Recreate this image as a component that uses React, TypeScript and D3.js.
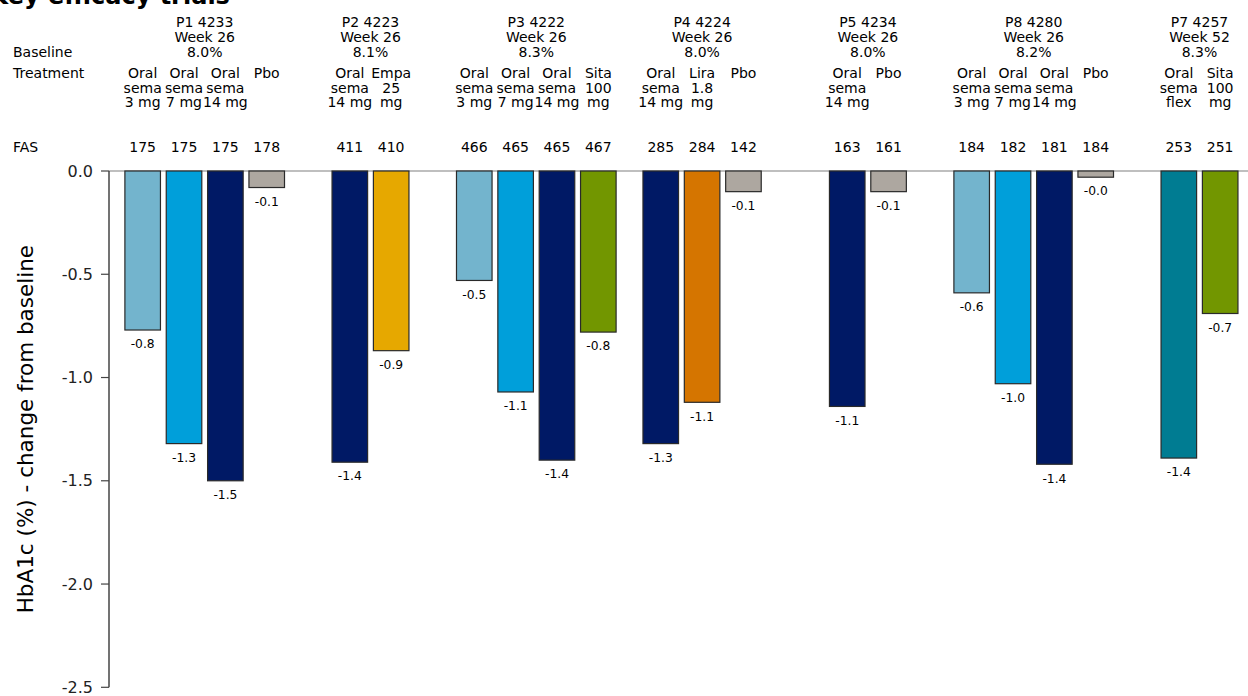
import React from "react";
import * as d3 from "d3";

// ---------- data ----------
const groups = ["P1 4233", "P2 4223", "P3 4222", "P4 4224", "P5 4234", "P8 4280", "P7 4257"];
const groupWeeks = ["Week 26", "Week 26", "Week 26", "Week 26", "Week 26", "Week 26", "Week 52"];
const groupBaselines = ["8.0%", "8.1%", "8.3%", "8.0%", "8.0%", "8.2%", "8.3%"];

const barGroup = [0, 0, 0, 0, 1, 1, 2, 2, 2, 2, 3, 3, 3, 4, 4, 5, 5, 5, 5, 6, 6];
const barTreatment = [
  "sema3", "sema7", "sema14", "pbo",
  "sema14", "empa",
  "sema3", "sema7", "sema14", "sita",
  "sema14", "lira", "pbo",
  "sema14", "pbo",
  "sema3", "sema7", "sema14", "pbo",
  "flex", "sita",
];
const barFAS = [175, 175, 175, 178, 411, 410, 466, 465, 465, 467, 285, 284, 142, 163, 161, 184, 182, 181, 184, 253, 251];
const barValues = [
  -0.77, -1.32, -1.5, -0.08,
  -1.41, -0.87,
  -0.53, -1.07, -1.4, -0.78,
  -1.32, -1.12, -0.1,
  -1.14, -0.1,
  -0.59, -1.03, -1.42, -0.03,
  -1.39, -0.69,
];

const treatmentKeys = ["sema3", "sema7", "sema14", "pbo", "empa", "sita", "lira", "flex"];
const treatmentLabels = [
  ["Oral", "sema", "3 mg"],
  ["Oral", "sema", "7 mg"],
  ["Oral", "sema", "14 mg"],
  ["Pbo"],
  ["Empa", "25", "mg"],
  ["Sita", "100", "mg"],
  ["Lira", "1.8", "mg"],
  ["Oral", "sema", "flex"],
];
const treatmentColors = ["#73B4CD", "#009FDA", "#001965", "#ADA7A0", "#E6A800", "#729600", "#D57500", "#007C92"];

const yTicks = [0, -0.5, -1.0, -1.5, -2.0, -2.5];

const title = "Key efficacy trials";
const yTitle = "HbA1c (%) - change from baseline";

// ---------- layout ----------
const W = 1248;
const H = 696;
const FONT = "'DejaVu Sans', Verdana, sans-serif";

export default function App() {
  const y = d3.scaleLinear().domain([0, -2.5]).range([171, 687.3]);
  const xGroup = d3.scaleBand<string>().domain(groups).range([121.8, 121.8 + 7 * 165.8]).padding(0);
  const step = 41.35;
  const color = d3.scaleOrdinal<string, string>().domain(treatmentKeys).range(treatmentColors);

  const bars = barValues.map((v, i) => {
    const g = barGroup[i];
    const members = barGroup.map((gg, k) => (gg === g ? k : -1)).filter((k) => k >= 0);
    const n = members.length;
    const c = (xGroup(groups[g]) as number) + xGroup.bandwidth() / 2;
    const inner = d3
      .scaleBand<number>()
      .domain(members)
      .range([c - (n * step) / 2, c + (n * step) / 2])
      .paddingInner(0.14)
      .paddingOuter(0.07);
    const x0 = inner(i) as number;
    return {
      i,
      x: x0,
      w: inner.bandwidth(),
      cx: x0 + inner.bandwidth() / 2,
      y0: y(0),
      y1: y(v),
      v,
      t: barTreatment[i],
    };
  });

  const axisX = 109;

  return (
    <svg
      width={W}
      height={H}
      style={{ position: "absolute", left: 0, top: 0, display: "block", background: "#fff" }}
      fontFamily={FONT}
    >
      {/* title */}
      <text x={-10.5} y={4} fontSize={24} fontWeight="bold" fill="#000">
        {title}
      </text>

      {/* row labels */}
      <text x={13} y={57.3} fontSize={14} fill="#000">Baseline</text>
      <text x={13} y={78.3} fontSize={14} fill="#000">Treatment</text>
      <text x={13} y={151.7} fontSize={14} fill="#000">FAS</text>

      {/* group headers */}
      {groups.map((g, gi) => {
        const c = (xGroup(g) as number) + xGroup.bandwidth() / 2;
        return (
          <g key={g} fontSize={14} textAnchor="middle" fill="#000">
            <text x={c} y={27.3}>{g}</text>
            <text x={c} y={42.3}>{groupWeeks[gi]}</text>
            <text x={c} y={57.3}>{groupBaselines[gi]}</text>
          </g>
        );
      })}

      {/* treatment labels & FAS */}
      {bars.map((b) => {
        const lines = treatmentLabels[treatmentKeys.indexOf(b.t)];
        return (
          <g key={"lab" + b.i} fontSize={14} textAnchor="middle" fill="#000">
            {lines.map((ln, li) => (
              <text key={li} x={b.cx} y={78.3 + li * 14.2}>{ln}</text>
            ))}
            <text x={b.cx} y={151.7}>{barFAS[b.i]}</text>
          </g>
        );
      })}

      {/* top zero line */}
      <line x1={axisX} x2={W} y1={y(0)} y2={y(0)} stroke="#808080" strokeWidth={1.2} />

      {/* bars */}
      {bars.map((b) => (
        <g key={"bar" + b.i}>
          <rect
            x={b.x}
            y={b.y0}
            width={b.w}
            height={b.y1 - b.y0}
            fill={color(b.t)}
            stroke="#2a2a2a"
            strokeWidth={1.2}
          />
          <text x={b.cx} y={b.y1 + 18.3} fontSize={12.3} textAnchor="middle" fill="#000">
            {b.v.toFixed(1)}
          </text>
        </g>
      ))}

      {/* y axis */}
      <line x1={axisX} x2={axisX} y1={y(0)} y2={y(-2.5)} stroke="#444" strokeWidth={1.5} />
      {yTicks.map((t) => (
        <g key={t}>
          <line x1={axisX - 8} x2={axisX} y1={y(t)} y2={y(t)} stroke="#444" strokeWidth={1.2} />
          <text x={93} y={y(t)} dy="0.35em" fontSize={16} textAnchor="end" fill="#222">
            {t.toFixed(1)}
          </text>
        </g>
      ))}

      {/* y title */}
      <text
        transform={`translate(33,${(y(0) + y(-2.5)) / 2}) rotate(-90)`}
        fontSize={21.5}
        textAnchor="middle"
        fill="#000"
      >
        {yTitle}
      </text>
    </svg>
  );
}
